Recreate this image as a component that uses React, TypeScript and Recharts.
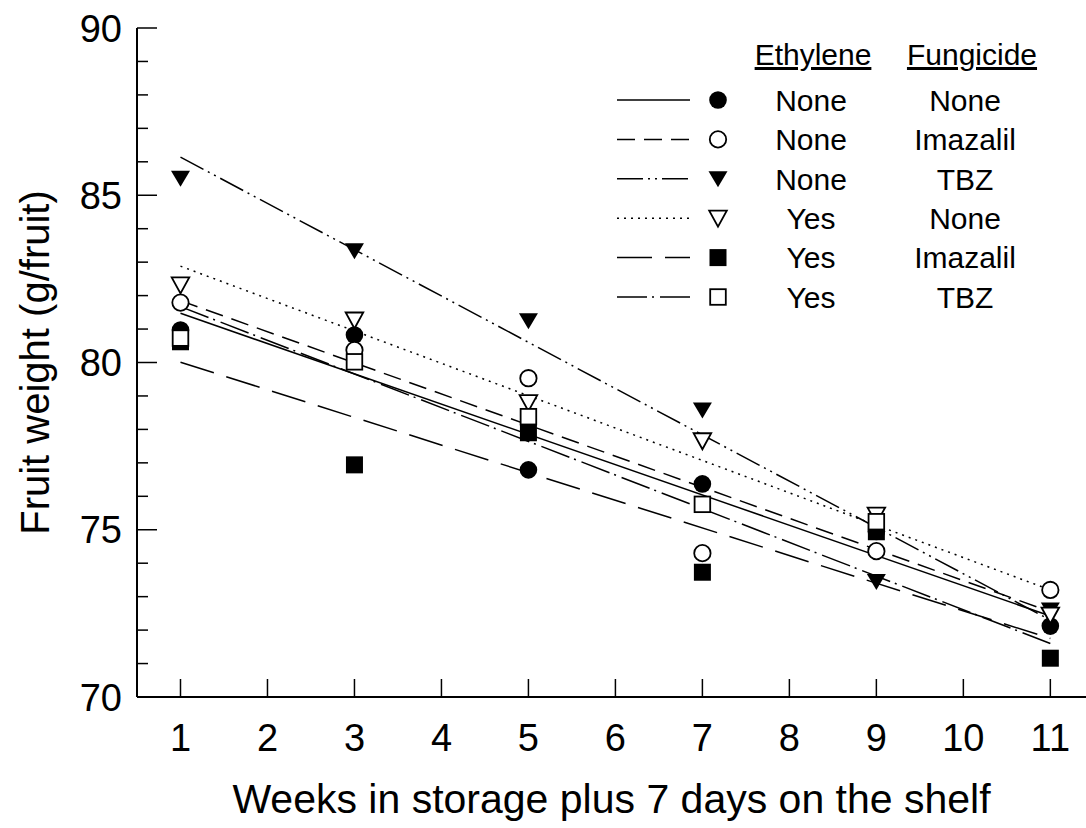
import React from "react"
import { ScatterChart, Scatter, XAxis, YAxis, Label } from "recharts"

// weeks in storage (+7 days shelf)
const weeks = [1, 3, 5, 7, 9, 11]
const xTicks = [1, 2, 3, 4, 5, 6, 7, 8, 9, 10, 11]
const yTicks = [70, 71, 72, 73, 74, 75, 76, 77, 78, 79, 80, 81, 82, 83, 84, 85, 86, 87, 88, 89, 90]

// fruit weight (g/fruit) per treatment
const noneNone = [80.97, 80.82, 76.79, 76.37, 74.95, 72.12]
const noneImazalil = [81.79, 80.37, 79.53, 74.3, 74.36, 73.2]
const noneTbz = [85.51, 83.34, 81.25, 78.58, 73.45, 72.6]
const yesNone = [82.32, 81.27, 78.8, 77.66, 75.44, 72.45]
const yesImazalil = [80.62, 76.94, 77.9, 73.73, 74.94, 71.16]
const yesTbz = [80.73, 80.02, 78.38, 75.76, 75.24, null]

// fitted lines, read at week 1 and week 11
const fitWeeks = [1, 11]
const noneNoneFit = [81.47, 72.42]
const noneImazalilFit = [81.85, 72.55]
const noneTbzFit = [86.14, 72.3]
const yesNoneFit = [82.88, 73.2]
const yesImazalilFit = [80.01, 71.75]
const yesTbzFit = [81.67, 71.6]

const series = [
  { eth: "None", fung: "None", values: noneNone, fit: noneNoneFit, marker: "circle", filled: true, dash: undefined },
  { eth: "None", fung: "Imazalil", values: noneImazalil, fit: noneImazalilFit, marker: "circle", filled: false, dash: "18 9" },
  { eth: "None", fung: "TBZ", values: noneTbz, fit: noneTbzFit, marker: "triangle", filled: true, dash: "26 5 2 5 2 5" },
  { eth: "Yes", fung: "None", values: yesNone, fit: yesNoneFit, marker: "triangle", filled: false, dash: "2 5" },
  { eth: "Yes", fung: "Imazalil", values: yesImazalil, fit: yesImazalilFit, marker: "square", filled: true, dash: "35 13" },
  { eth: "Yes", fung: "TBZ", values: yesTbz, fit: yesTbzFit, marker: "square", filled: false, dash: "30 5 2 6" },
]

const FONT = "'Liberation Sans', Arial, Helvetica, sans-serif"

const toPoints = (xs: number[], ys: (number | null)[]) =>
  xs.map((x, i) => ({ x, y: ys[i] })).filter((d) => d.y != null)

const Marker = ({ cx, cy, kind, filled }: any) => {
  if (cx == null || cy == null) return <g />
  const fill = filled ? "#000" : "#fff"
  const sw = filled ? 0 : 1.8
  if (kind === "circle") {
    return <circle cx={cx} cy={cy} r={filled ? 8.8 : 8.2} fill={fill} stroke="#000" strokeWidth={sw} />
  }
  if (kind === "triangle") {
    const w = filled ? 9.5 : 8.8
    const pts = `${cx - w},${cy - 7.5} ${cx + w},${cy - 7.5} ${cx},${cy + 8.5}`
    return <polygon points={pts} fill={fill} stroke="#000" strokeWidth={sw} strokeLinejoin="miter" />
  }
  const h = filled ? 8.5 : 7.8
  return <rect x={cx - h} y={cy - h} width={h * 2} height={h * 2} fill={fill} stroke="#000" strokeWidth={sw} />
}

const YTick = ({ x, y, payload }: any) => {
  const major = payload.value % 5 === 0
  return (
    <g>
      <line x1={x} x2={x + (major ? 20 : 11)} y1={y} y2={y} stroke="#000" strokeWidth={1.5} />
      {major && (
        <text x={x - 15} y={y} dy="0.36em" textAnchor="end" fontSize={38} fontFamily={FONT} fill="#000">
          {payload.value}
        </text>
      )}
    </g>
  )
}

const XTick = ({ x, y, payload }: any) => (
  <g>
    <line x1={x} x2={x} y1={y} y2={y - 18} stroke="#000" strokeWidth={1.5} />
    <text x={x} y={y + 54} textAnchor="middle" fontSize={38} fontFamily={FONT} fill="#000">
      {payload.value}
    </text>
  </g>
)

const XTitle = ({ viewBox }: any) => (
  <text x={viewBox.x + viewBox.width / 2} y={viewBox.y + 116} textAnchor="middle" fontSize={41} fontFamily={FONT} fill="#000">
    Weeks in storage plus 7 days on the shelf
  </text>
)

const YTitle = ({ viewBox }: any) => {
  const cx = 49
  const cy = viewBox.y + viewBox.height / 2
  return (
    <text x={cx} y={cy} transform={`rotate(-90, ${cx}, ${cy})`} textAnchor="middle" fontSize={40} fontFamily={FONT} fill="#000">
      Fruit weight (g/fruit)
    </text>
  )
}

const LegendBox = () => {
  const rowY = (i: number) => 100 + i * 39.4
  return (
    <svg width={1086} height={828} style={{ position: "absolute", left: 0, top: 0, pointerEvents: "none" }}>
      <g fontFamily={FONT} fontSize={30} fill="#000">
        <text x={813} y={65} textAnchor="middle" textDecoration="underline">Ethylene</text>
        <text x={972} y={65} textAnchor="middle" textDecoration="underline">Fungicide</text>
        {series.map((s, i) => (
          <g key={i}>
            <line x1={617} x2={690} y1={rowY(i)} y2={rowY(i)} stroke="#000" strokeWidth={1.5} strokeDasharray={s.dash} />
            <Marker cx={718} cy={rowY(i)} kind={s.marker} filled={s.filled} />
            <text x={811} y={rowY(i)} dy="0.36em" textAnchor="middle">{s.eth}</text>
            <text x={965} y={rowY(i)} dy="0.36em" textAnchor="middle">{s.fung}</text>
          </g>
        ))}
      </g>
    </svg>
  )
}

export default function App() {
  return (
    <div style={{ position: "absolute", left: 0, top: 0, width: 1086, height: 828, background: "#fff" }}>
      <ScatterChart width={1086} height={828} margin={{ top: 28, right: 0, bottom: 0, left: 0 }}>
        <XAxis
          type="number"
          dataKey="x"
          domain={[0.5, 11.41]}
          allowDataOverflow
          ticks={xTicks}
          interval={0}
          tickSize={0}
          tickMargin={0}
          tickLine={false}
          tick={<XTick />}
          axisLine={{ stroke: "#000", strokeWidth: 2 }}
          height={131}
        >
          <Label content={<XTitle />} />
        </XAxis>
        <YAxis
          type="number"
          dataKey="y"
          domain={[70, 90]}
          allowDataOverflow
          ticks={yTicks}
          interval={0}
          tickSize={0}
          tickMargin={0}
          tickLine={false}
          tick={<YTick />}
          axisLine={{ stroke: "#000", strokeWidth: 2 }}
          width={137}
        >
          <Label content={<YTitle />} />
        </YAxis>
        {series.map((s, i) => (
          <Scatter
            key={"fit" + i}
            data={toPoints(fitWeeks, s.fit)}
            line={{ stroke: "#000", strokeWidth: 1.5, strokeDasharray: s.dash }}
            shape={() => <g />}
            isAnimationActive={false}
          />
        ))}
        {series.map((s, i) => (
          <Scatter
            key={"pts" + i}
            data={toPoints(weeks, s.values)}
            shape={(p: any) => <Marker cx={p.cx} cy={p.cy} kind={s.marker} filled={s.filled} />}
            isAnimationActive={false}
          />
        ))}
      </ScatterChart>
      <LegendBox />
    </div>
  )
}
